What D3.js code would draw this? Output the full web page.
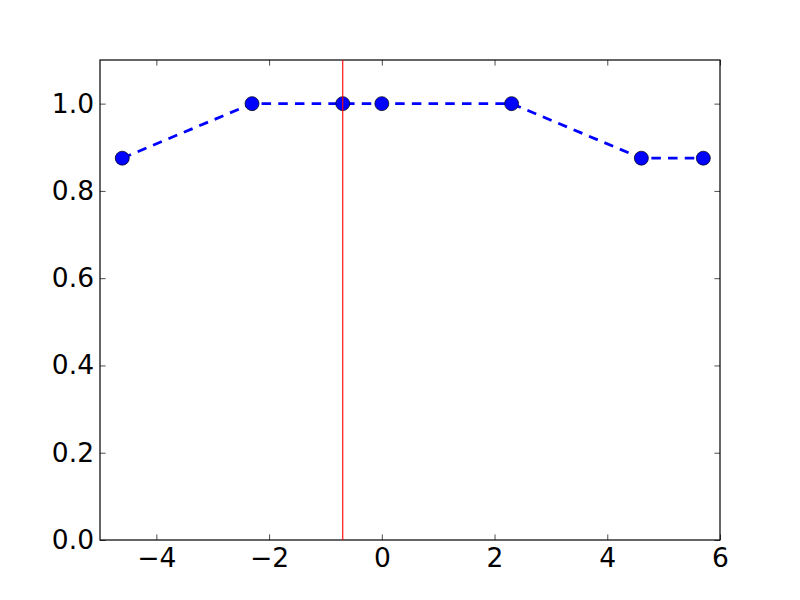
<!DOCTYPE html>
<html>
<head>
<meta charset="utf-8">
<script src="https://cdn.jsdelivr.net/npm/d3@7"></script>
<style>
  body { margin: 0; background: #fff; }
  text { font-family: "DejaVu Sans", sans-serif; }
</style>
</head>
<body>
<div id="chart"></div>
<script>
// data (x looks like ln of a few values)
const xs = [-4.605, -2.303, -0.693, 0, 2.303, 4.605, 5.704]
const ys = [0.875, 1.0, 1.0, 1.0, 1.0, 0.875, 0.875]
const markerX = -0.693
const xTicks = [-4, -2, 0, 2, 4, 6]
const yTicks = [0.0, 0.2, 0.4, 0.6, 0.8, 1.0]

const width = 800, height = 600
const margin = { top: 60, right: 80, bottom: 60, left: 100 }
const fontSize = 26.5

const svg = d3.select('#chart').append('svg')
  .attr('width', width)
  .attr('height', height)

const x = d3.scaleLinear().domain([-5, 6]).range([margin.left, width - margin.right])
const y = d3.scaleLinear().domain([0, 1.1]).range([height - margin.bottom, margin.top])

const fmtX = (d) => d < 0 ? '\u2212' + Math.abs(d) : String(d)

// ticks on all four sides, pointing inward
const tickLen = 5.6
const axB = svg.append('g').attr('transform', `translate(0,${y(0)})`)
  .call(d3.axisBottom(x).tickValues(xTicks).tickSize(-tickLen).tickPadding(8).tickFormat(fmtX))
const axT = svg.append('g').attr('transform', `translate(0,${y(1.1)})`)
  .call(d3.axisTop(x).tickValues(xTicks).tickSize(-tickLen).tickFormat(''))
const axL = svg.append('g').attr('transform', `translate(${x(-5)},0)`)
  .call(d3.axisLeft(y).tickValues(yTicks).tickSize(-tickLen).tickPadding(6).tickFormat(d3.format('.1f')))
const axR = svg.append('g').attr('transform', `translate(${x(6)},0)`)
  .call(d3.axisRight(y).tickValues(yTicks).tickSize(-tickLen).tickFormat(''))

;[axB, axT, axL, axR].forEach(g => {
  g.select('.domain').remove()
  g.attr('font-size', fontSize).attr('font-family', '"DejaVu Sans", sans-serif')
  g.selectAll('line').attr('stroke', '#000').attr('stroke-width', 0.7)
  g.selectAll('text').style('font-size', fontSize + 'px').attr('fill', '#000')
})

// frame
svg.append('rect')
  .attr('x', x(-5)).attr('y', y(1.1))
  .attr('width', x(6) - x(-5)).attr('height', y(0) - y(1.1))
  .attr('fill', 'none').attr('stroke', '#000').attr('stroke-width', 1.2)

const pts = xs.map((v, i) => ({ x: v, y: ys[i] }))

svg.append('path')
  .datum(pts)
  .attr('fill', 'none')
  .attr('stroke', '#0000ff')
  .attr('stroke-width', 2.78)
  .attr('stroke-dasharray', '9.5,7.2')
  .attr('d', d3.line().x(d => x(d.x)).y(d => y(d.y)))

svg.selectAll('.pt').data(pts).enter().append('circle')
  .attr('class', 'pt')
  .attr('cx', d => x(d.x))
  .attr('cy', d => y(d.y))
  .attr('r', 7)
  .attr('fill', '#0000ff')
  .attr('stroke', '#000')
  .attr('stroke-width', 0.7)

svg.append('line')
  .attr('x1', x(markerX)).attr('x2', x(markerX))
  .attr('y1', y(0)).attr('y2', y(1.1))
  .attr('stroke', '#ff0000')
  .attr('stroke-width', 1.1)
</script>
</body>
</html>
